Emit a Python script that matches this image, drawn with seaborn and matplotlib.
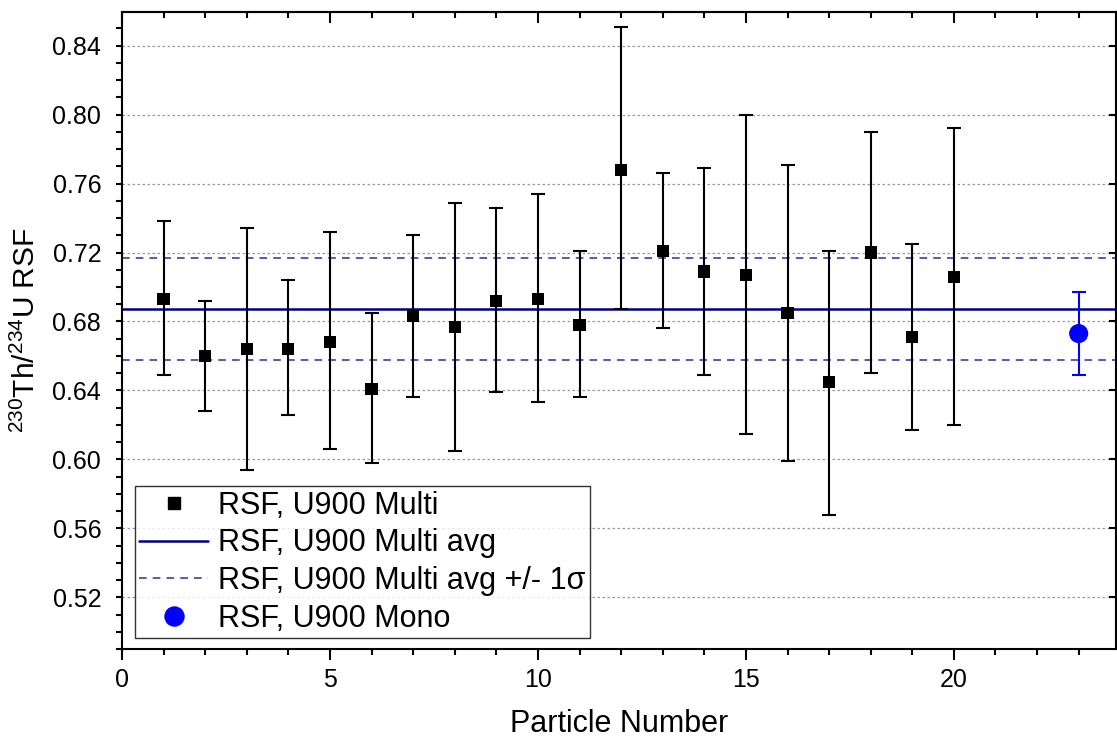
import numpy as np
import pandas as pd
import matplotlib
matplotlib.use("Agg")
import matplotlib.pyplot as plt
import seaborn as sns
from matplotlib.lines import Line2D
from matplotlib.ticker import MultipleLocator

# ---- data ----
particle = [1, 2, 3, 4, 5, 6, 7, 8, 9, 10, 11, 12, 13, 14, 15, 16, 17, 18, 19, 20]
rsf = [0.693, 0.660, 0.664, 0.664, 0.668, 0.641, 0.683, 0.677, 0.692, 0.693,
       0.678, 0.768, 0.721, 0.709, 0.707, 0.685, 0.645, 0.720, 0.671, 0.706]
err_hi = [0.738, 0.692, 0.734, 0.704, 0.732, 0.685, 0.730, 0.749, 0.746, 0.754,
          0.721, 0.851, 0.766, 0.769, 0.800, 0.771, 0.721, 0.790, 0.725, 0.792]
err_lo = [0.649, 0.628, 0.594, 0.626, 0.606, 0.598, 0.636, 0.605, 0.639, 0.633,
          0.636, 0.687, 0.676, 0.649, 0.615, 0.599, 0.568, 0.650, 0.617, 0.620]
mono_x = [23]
mono_y = [0.673]
mono_hi = [0.697]
mono_lo = [0.649]
avg = 0.6874
avg_plus = 0.7171
avg_minus = 0.6578

labels = ["RSF, U900 Multi", "RSF, U900 Multi avg",
          "RSF, U900 Multi avg +/- 1\u03c3", "RSF, U900 Mono"]
ylabel = r"$^{230}$Th/$^{234}$U RSF"
xlabel = "Particle Number"

# ---- style ----
sns.set_theme(style="white")
plt.rcParams["font.family"] = ["Liberation Sans", "DejaVu Sans"]
plt.rcParams["mathtext.default"] = "regular"
plt.rcParams["text.color"] = "black"
plt.rcParams["axes.labelcolor"] = "black"

fig = plt.figure(figsize=(11.17, 7.38), dpi=100)
ax = fig.add_axes([0.1092, 0.1206, 0.8900, 0.8631])

NAVY = "#000080"
DASH = "#2e2e9a"
BLUE = "#0000ff"

# grid
for yv in np.arange(0.52, 0.85, 0.04):
    ax.axhline(yv, color="#9a9a9a", lw=0.9, ls=(0, (2, 2)), zorder=0)

# avg lines
ax.axhline(avg, color=NAVY, lw=1.8, zorder=1)
ax.axhline(avg_plus, color=DASH, lw=1.1, ls=(0, (5, 4)), zorder=1)
ax.axhline(avg_minus, color=DASH, lw=1.1, ls=(0, (5, 4)), zorder=1)

df = pd.DataFrame({"particle": particle, "rsf": rsf, "hi": err_hi, "lo": err_lo})
yerr = np.vstack([df.rsf - df.lo, df.hi - df.rsf])
ax.errorbar(df.particle, df.rsf, yerr=yerr, fmt="none", ecolor="black",
            elinewidth=1.5, capsize=4.8, capthick=1.5, zorder=2)
sns.scatterplot(data=df, x="particle", y="rsf", marker="s", s=78, color="black",
                edgecolor="none", linewidth=0, ax=ax, zorder=3, legend=False)

dm = pd.DataFrame({"x": mono_x, "y": mono_y})
ax.errorbar(mono_x, mono_y,
            yerr=[[mono_y[0] - mono_lo[0]], [mono_hi[0] - mono_y[0]]],
            fmt="none", ecolor=BLUE, elinewidth=1.5, capsize=4.8, capthick=1.5, zorder=2)
sns.scatterplot(data=dm, x="x", y="y", marker="o", s=190, color=BLUE,
                edgecolor="none", linewidth=0, ax=ax, zorder=3, legend=False)

ax.set_xlim(0, 23.9)
ax.set_ylim(0.49, 0.8595)
ax.xaxis.set_major_locator(MultipleLocator(5))
ax.xaxis.set_minor_locator(MultipleLocator(1))
ax.yaxis.set_major_locator(MultipleLocator(0.04))
ax.yaxis.set_minor_locator(MultipleLocator(0.01))
ax.yaxis.set_major_formatter(matplotlib.ticker.FormatStrFormatter("%.2f"))

for sp in ax.spines.values():
    sp.set_visible(True)
    sp.set_color("black")
    sp.set_linewidth(1.5)

ax.tick_params(axis="x", which="major", direction="out", length=8, width=1.5,
               labelsize=18, color="black", labelcolor="black", pad=6,
               bottom=True, top=False)
ax.tick_params(axis="x", which="minor", direction="out", length=4.5, width=1.5,
               color="black", bottom=True, top=False)
ax.tick_params(axis="y", which="major", direction="out", length=4, width=1.5,
               labelsize=18, color="black", labelcolor="black", pad=11,
               left=True, right=False)
ax.tick_params(axis="y", which="minor", direction="out", length=4, width=1.5,
               color="black", left=True, right=False)

secx = ax.secondary_xaxis("top")
secx.xaxis.set_major_locator(MultipleLocator(5))
secx.xaxis.set_minor_locator(MultipleLocator(1))
secx.tick_params(axis="x", which="major", direction="in", length=8, width=1.5,
                 labeltop=False, color="black")
secx.tick_params(axis="x", which="minor", direction="in", length=4, width=1.5,
                 color="black")
secx.spines["top"].set_linewidth(1.5)

secy = ax.secondary_yaxis("right")
secy.yaxis.set_major_locator(MultipleLocator(0.04))
secy.yaxis.set_minor_locator(matplotlib.ticker.NullLocator())
secy.tick_params(axis="y", which="major", direction="in", length=5, width=1.5,
                 labelright=False, color="black")

ax.set_xlabel(xlabel, fontsize=22, color="black", labelpad=12)
ax.set_ylabel(ylabel, fontsize=21.5, color="black", labelpad=8)

handles = [
    Line2D([], [], ls="none", marker="s", ms=8.6, color="black"),
    Line2D([], [], color=NAVY, lw=1.8),
    Line2D([], [], color=DASH, lw=1.1, ls=(0, (5, 4))),
    Line2D([], [], ls="none", marker="o", ms=13.7, color=BLUE),
]
leg = ax.legend(handles, labels, loc="lower left", bbox_to_anchor=(0.013, 0.017),
                borderaxespad=0, fontsize=22, frameon=True, fancybox=False,
                edgecolor="black", handlelength=2.25, handletextpad=0.33,
                labelspacing=0.25, borderpad=0.15)
leg.get_frame().set_linewidth(1.0)
for t in leg.get_texts():
    t.set_color("black")

fig.savefig("out.png", dpi=100)
